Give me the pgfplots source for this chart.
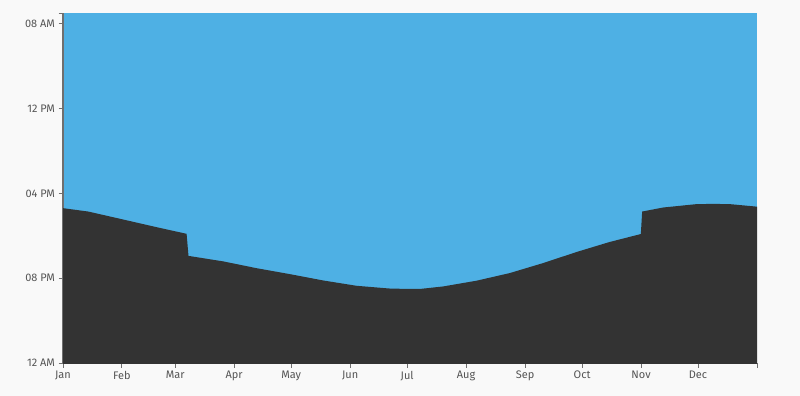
\documentclass[border=0pt]{standalone}
\usepackage{pgfplots}
\pgfplotsset{compat=1.18}
\usepackage{fontspec}
\setmainfont{Fira Sans}
\definecolor{bg}{HTML}{F9F9F9}
\definecolor{sky}{HTML}{4EB0E4}
\definecolor{night}{HTML}{333333}
\definecolor{axisgrey}{HTML}{6F6F6F}
\definecolor{labgrey}{HTML}{555555}
\begin{document}
\begin{tikzpicture}
\fill[bg] (0,0) rectangle (800bp,396bp);
\begin{axis}[
  at={(63bp,33bp)}, anchor=south west,
  scale only axis, width=694bp, height=350bp,
  xmin=0, xmax=365, ymin=7.5, ymax=24,
  y dir=reverse,
  axis x line*=bottom, axis y line*=left,
  axis line style={axisgrey, line width=1.5bp, -},
  axis background/.style={fill=sky},
  xtick={0,31,59,90,120,151,181,212,243,273,304,334,365},
  xticklabels={Jan,Feb,Mar,Apr,May,Jun,Jul,Aug,Sep,Oct,Nov,Dec,{}},
  ytick={7.5,8,12,16,20,24},
  yticklabels={{},08 AM,12 PM,04 PM,08 PM,12 AM},
  tick align=outside,
  major tick length=4.5bp,
  tick style={axisgrey, line width=1bp},
  tick label style={font=\fontsize{11}{13}\selectfont, text=labgrey},
  xticklabel style={yshift=0bp},
  yticklabel style={xshift=0bp},
  /pgf/number format/assume math mode=true,
]
\addplot[fill=night, draw=none] table {
d h
0 16.70
13.3 16.86
30.9 17.22
48.4 17.58
65.0 17.91
66.0 18.95
84.3 19.21
101.8 19.53
119.3 19.81
136.9 20.11
154.4 20.36
171.9 20.49
182.4 20.51
187.7 20.51
200 20.39
217.5 20.12
235 19.76
252.5 19.29
270 18.77
287.3 18.30
303.9 17.92
304.6 16.86
315.6 16.67
333.2 16.51
341.9 16.50
350.7 16.51
365 16.63
365 24.5
0 24.5
};
\end{axis}
\end{tikzpicture}
\end{document}
